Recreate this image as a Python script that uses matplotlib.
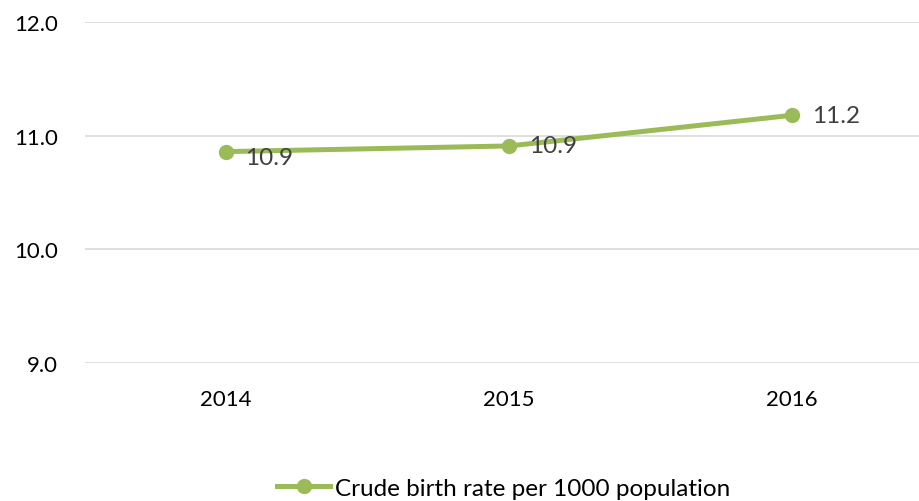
import matplotlib.pyplot as plt
from matplotlib.lines import Line2D

years = ['2014', '2015', '2016']
birth_rate = [10.86, 10.91, 11.18]
point_labels = ['10.9', '10.9', '11.2']
yticks = [9.0, 10.0, 11.0, 12.0]

green = '#9BBB59'
plt.rcParams['font.family'] = ['Lato', 'DejaVu Sans']

fig = plt.figure(figsize=(9.19, 5.02), dpi=100)
ax = fig.add_axes([0.092, 0.275, 0.924, 0.679])

x = range(len(years))
ax.plot(x, birth_rate, color=green, lw=3.6, marker='o', ms=10,
        solid_capstyle='round', zorder=3)
for xi, yv, lab in zip(x, birth_rate, point_labels):
    dy = -4 if xi == 0 else 0
    ax.annotate(lab, (xi, yv), xytext=(14, dy), textcoords='offset points',
                ha='left', va='center', fontsize=17.5, color='#404040')

ax.set_xlim(-0.5, 2.5)
ax.set_ylim(9.0, 12.0)
ax.set_xticks(list(x))
ax.set_xticklabels(years)
ax.set_yticks(yticks)
ax.set_yticklabels([f'{v:.1f}' for v in yticks])
ax.tick_params(axis='both', length=0, labelsize=16, colors='black')
ax.tick_params(axis='y', pad=19)
ax.tick_params(axis='x', pad=19)
ax.grid(axis='y', color='#D9D9D9', lw=1.2)
ax.set_axisbelow(True)
for s in ax.spines.values():
    s.set_visible(False)

handle = Line2D([], [], color=green, lw=3.6, marker='o', ms=10)
fig.legend([handle], ['Crude birth rate per 1000 population'],
           loc='center', bbox_to_anchor=(0.548, 0.025), frameon=False,
           fontsize=17.5, handlelength=2.2, handletextpad=0.2)

fig.savefig('out.png', dpi=100)
